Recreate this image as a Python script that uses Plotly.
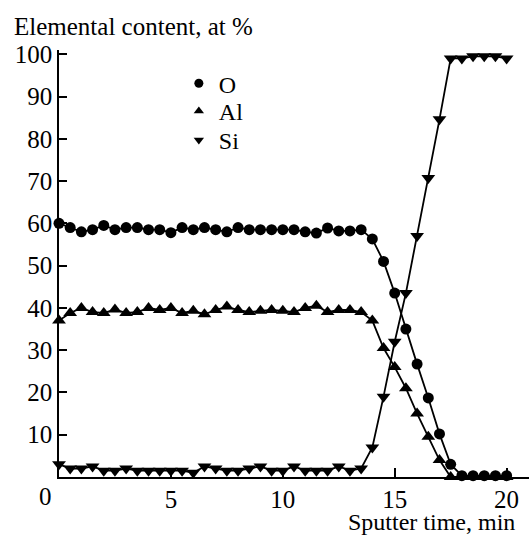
import plotly.graph_objects as go

# Sputter time grid (min) and elemental content (at %)
time_min = [i * 0.5 for i in range(41)]

oxygen = [60, 59, 58, 58.5, 59.5, 58.5, 59, 59, 58.5, 58.5,
          57.8, 59, 58.5, 59, 58.5, 58, 59, 58.5, 58.5, 58.5,
          58.5, 58.5, 58, 57.7, 58.9, 58.2, 58.2, 58.5, 56.3, 51,
          43.5, 35, 26.7, 18.7, 10.2, 3, 0.3, 0.3, 0.3, 0.3, 0.3]

aluminium = [37, 38.8, 40, 39, 38.8, 39.6, 38.8, 39, 40, 39.5,
             40, 38.8, 39.3, 38.5, 39.5, 40.3, 39.5, 39, 39.3, 39.5,
             39.3, 39, 40, 40.5, 39, 39.5, 39.5, 39, 37, 30.5,
             26, 21, 15, 9.5, 4, 0, 0, 0, 0, 0, 0]

silicon = [3, 2, 2, 2.5, 1.5, 1.5, 2, 1.5, 1.5, 1.5,
           1.5, 1.5, 1, 2.5, 2, 1.5, 1.5, 2, 2.5, 1.5,
           1.5, 2.5, 1.5, 1.5, 1.5, 2.5, 1.5, 2, 7, 19,
           32, 43.5, 57, 70.7, 84.6, 99, 99, 99.5, 99.5, 99.5, 99]

series = [
    ("O", oxygen, "circle", 11),
    ("Al", aluminium, "triangle-up", 12),
    ("Si", silicon, "triangle-down", 12),
]

y_ticks = [10, 20, 30, 40, 50, 60, 70, 80, 90, 100]
x_ticks = [5, 10, 15, 20]

FONT = "Liberation Serif, Times New Roman, serif"

fig = go.Figure()

for name, values, symbol, size in series:
    fig.add_trace(go.Scatter(
        x=time_min, y=values, mode="lines+markers", name=name,
        showlegend=False, cliponaxis=False,
        line=dict(color="black", width=1.8),
        marker=dict(symbol=symbol, size=size, color="black"),
    ))

# Marker-only key entries, one small legend per element
legend_ids = ["legend", "legend2", "legend3"]
legend_tops = [0.974, 0.909, 0.841]
for (name, values, symbol, size), lid in zip(series, legend_ids):
    fig.add_trace(go.Scatter(
        x=[None], y=[None], mode="markers", name=name, showlegend=True,
        legend=lid, marker=dict(symbol=symbol, size=9, color="black"),
    ))

legend_style = dict(x=0.255, xanchor="left", yanchor="top",
                    bgcolor="rgba(0,0,0,0)", font=dict(size=24),
                    itemwidth=30)

fig.update_layout(
    width=529, height=535,
    margin=dict(l=59, r=0, t=50, b=58),
    paper_bgcolor="white", plot_bgcolor="white",
    font=dict(family=FONT, size=24, color="black"),
    legend=dict(y=legend_tops[0], **legend_style),
    legend2=dict(y=legend_tops[1], **legend_style),
    legend3=dict(y=legend_tops[2], **legend_style),
    xaxis=dict(range=[0, 21], tickvals=x_ticks, ticks="inside", ticklen=9,
               tickwidth=1.5, tickcolor="black", showline=True,
               linecolor="black", linewidth=1.5, showgrid=False,
               zeroline=False, tickfont=dict(size=25),
               ticklabelstandoff=-1),
    yaxis=dict(range=[0, 101], tickvals=y_ticks, ticks="inside", ticklen=8,
               tickwidth=1.5, tickcolor="black", showline=True,
               linecolor="black", linewidth=1.5, showgrid=False,
               zeroline=False, tickfont=dict(size=25)),
    annotations=[
        dict(text="Elemental content, at %", xref="paper", yref="paper",
             x=-0.1, y=1.0, xanchor="left", yanchor="bottom", yshift=8,
             showarrow=False, font=dict(size=25)),
        dict(text="Sputter time, min", xref="paper", yref="paper",
             x=0.975, y=0, xanchor="right", yanchor="top", yshift=-30,
             showarrow=False, font=dict(size=24)),
        dict(text="0", xref="x", yref="paper", x=0, y=0,
             xanchor="center", yanchor="top", xshift=-14, yshift=-4,
             showarrow=False, font=dict(size=25)),
    ],
)

fig.write_html("out.html")
